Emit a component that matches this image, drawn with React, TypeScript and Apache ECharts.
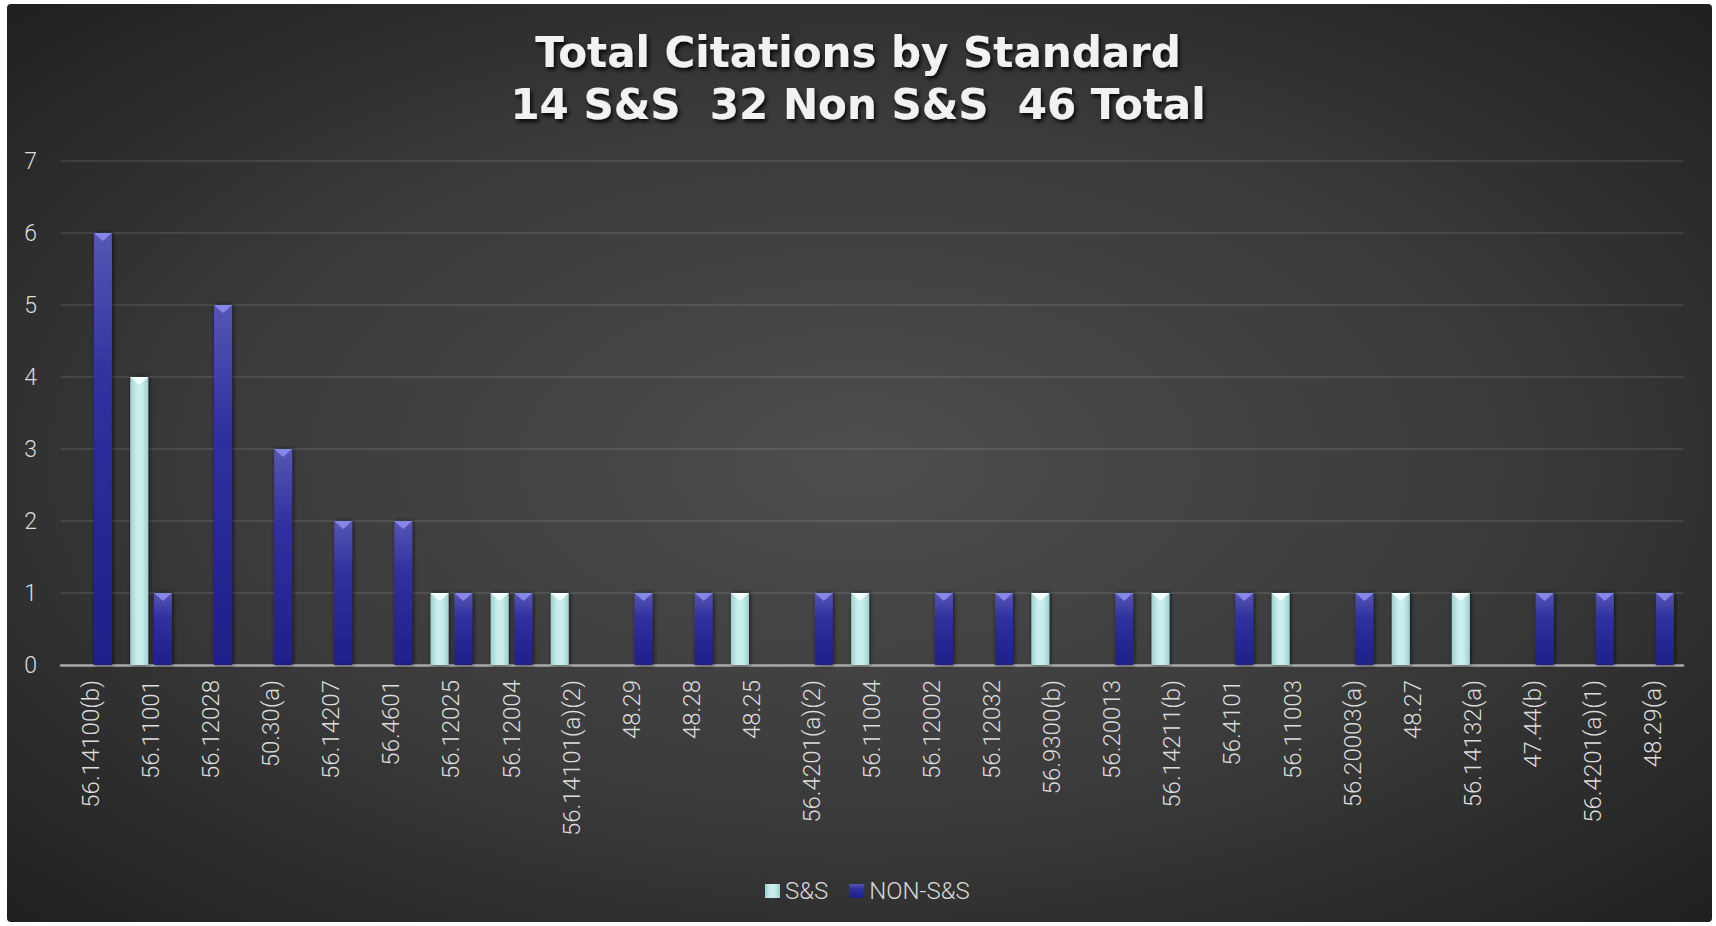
import React, { useEffect, useRef } from "react";
import * as echarts from "echarts";

const categories = [
  "56.14100(b)", "56.11001", "56.12028", "50.30(a)", "56.14207", "56.4601",
  "56.12025", "56.12004", "56.14101(a)(2)", "48.29", "48.28", "48.25",
  "56.4201(a)(2)", "56.11004", "56.12002", "56.12032", "56.9300(b)", "56.20013",
  "56.14211(b)", "56.4101", "56.11003", "56.20003(a)", "48.27", "56.14132(a)",
  "47.44(b)", "56.4201(a)(1)", "48.29(a)",
];
const ssValues = [0, 4, 0, 0, 0, 0, 1, 1, 1, 0, 0, 1, 0, 1, 0, 0, 1, 0, 1, 0, 1, 0, 1, 1, 0, 0, 0];
const nonSsValues = [6, 1, 5, 3, 2, 2, 1, 1, 0, 1, 1, 0, 1, 0, 1, 1, 0, 1, 0, 1, 0, 1, 0, 0, 1, 1, 1];
const yTicks = [0, 1, 2, 3, 4, 5, 6, 7];
const titleLines = ["Total Citations by Standard", "14 S&S  32 Non S&S  46 Total"];
const seriesNames = ["S&S", "NON-S&S"];

const W = 1716;
const H = 926;

export default function App() {
  const ref = useRef<HTMLDivElement>(null);
  useEffect(() => {
    if (!ref.current) return;
    const chart = echarts.init(ref.current, undefined, { renderer: "svg" });
    const ssColor = new echarts.graphic.LinearGradient(0, 0, 1, 0, [
      { offset: 0, color: "#9fcfd0" },
      { offset: 0.35, color: "#c8eeee" },
      { offset: 0.65, color: "#c8eeee" },
      { offset: 1, color: "#9fcfd0" },
    ]);
    const nonColor = new echarts.graphic.LinearGradient(0, 0, 0, 1, [
      { offset: 0, color: "#5656b4" },
      { offset: 0.35, color: "#30309f" },
      { offset: 1, color: "#1f1f8a" },
    ]);
    const barCommon = {
      type: "bar",
      barWidth: 18,
      barGap: "32%",
    };
    const topCommon = {
      type: "pictorialBar",
      barWidth: 18,
      barGap: "32%",
      symbol: "triangle",
      symbolRotate: 180,
      symbolSize: [18, 8],
      symbolPosition: "end",
      symbolOffset: [0, 0],
      z: 5,
      silent: true,
    };
    chart.setOption({
      animation: false,
      backgroundColor: "#ffffff",
      graphic: [
        {
          type: "rect",
          z: -10,
          shape: { x: 7, y: 4, width: 1705, height: 918, r: 4 },
          style: {
            fill: new echarts.graphic.RadialGradient(0.5, 0.5, 0.7, [
              { offset: 0, color: "#4d4d4d" },
              { offset: 0.55, color: "#3a3a3a" },
              { offset: 1, color: "#202020" },
            ]),
          },
        },
      ],
      title: {
        text: titleLines.join("\n"),
        left: "center",
        top: 21,
        textStyle: {
          fontFamily: "DejaVu Sans",
          fontWeight: "bold",
          fontSize: 42,
          lineHeight: 52,
          color: "#f2f2f2",
          textShadowColor: "rgba(0,0,0,0.85)",
          textShadowBlur: 4,
          textShadowOffsetX: 2,
          textShadowOffsetY: 3,
        },
      },
      legend: {
        data: seriesNames,
        left: 760,
        top: 874,
        icon: "rect",
        itemWidth: 15,
        itemHeight: 14,
        itemGap: 21,
        textStyle: { color: "#d9d9d9", fontSize: 24, fontFamily: "Roboto", fontWeight: 300 },
      },
      grid: { left: 61, right: 33, top: 161, bottom: 261, containLabel: false },
      xAxis: {
        type: "category",
        data: categories,
        axisLine: { lineStyle: { color: "#a8a8a8", width: 2.5 } },
        axisTick: { show: false },
        axisLabel: {
          rotate: 90,
          interval: 0,
          margin: 15,
          color: "#dcdcdc",
          fontSize: 24,
          fontFamily: "Roboto",
          fontWeight: 300,
        },
        splitLine: { show: false },
      },
      yAxis: {
        type: "value",
        min: yTicks[0],
        max: yTicks[yTicks.length - 1],
        interval: 1,
        axisLine: { show: false },
        axisTick: { show: false },
        axisLabel: { color: "#dcdcdc", fontSize: 23, fontFamily: "Roboto", fontWeight: 300, margin: 24 },
        splitLine: { lineStyle: { color: "rgba(255,255,255,0.13)", width: 1.5 } },
      },
      series: [
        {
          ...barCommon,
          name: seriesNames[0],
          data: ssValues,
          itemStyle: {
            color: ssColor,
            shadowBlur: 4,
            shadowColor: "rgba(0,0,0,0.7)",
            shadowOffsetX: 1,
          },
        },
        {
          ...barCommon,
          name: seriesNames[1],
          data: nonSsValues,
          itemStyle: {
            color: nonColor,
            shadowBlur: 4,
            shadowColor: "rgba(0,0,0,0.7)",
            shadowOffsetX: 1,
          },
        },
        {
          ...topCommon,
          name: "S&S top",
          data: ssValues.map((v) => (v > 0 ? v : "-")),
          itemStyle: { color: "#f4ffff" },
        },
        {
          ...topCommon,
          name: "NON-S&S top",
          data: nonSsValues.map((v) => (v > 0 ? v : "-")),
          itemStyle: { color: "#8686e8" },
        },
      ],
    });
    return () => chart.dispose();
  }, []);
  return (
    <div
      ref={ref}
      style={{ position: "fixed", left: 0, top: 0, width: W, height: H }}
    />
  );
}
